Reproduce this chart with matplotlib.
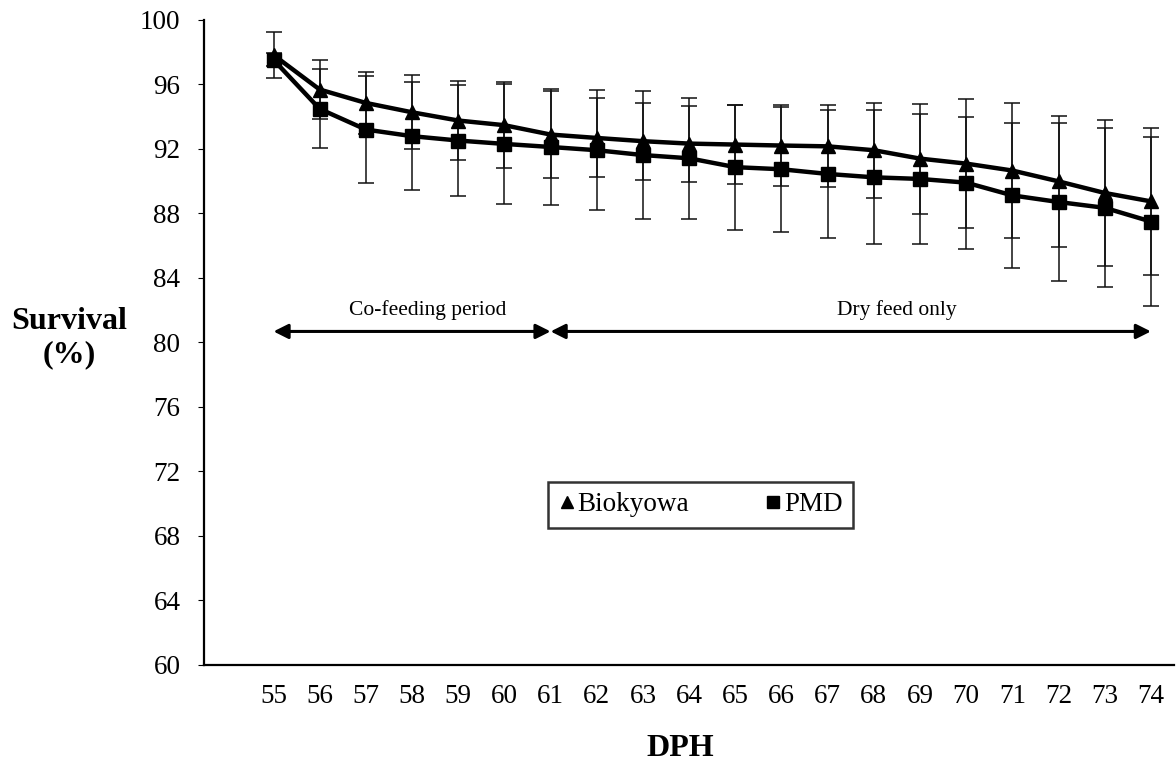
import matplotlib
matplotlib.use("Agg")
import matplotlib.pyplot as plt
from matplotlib.lines import Line2D

dph = list(range(55, 75))
biokyowa = [97.8, 95.66, 94.83, 94.25, 93.74, 93.45, 92.87, 92.66, 92.46, 92.31,
            92.25, 92.19, 92.14, 91.9, 91.38, 91.07, 90.64, 89.97, 89.25, 88.73]
biokyowa_err = [1.4, 1.8, 1.9, 2.3, 2.43, 2.66, 2.7, 2.45, 2.38, 2.35,
                2.45, 2.53, 2.55, 2.94, 3.41, 4.01, 4.16, 4.05, 4.51, 4.55]
pmd = [97.5, 94.46, 93.18, 92.77, 92.5, 92.29, 92.1, 91.9, 91.6, 91.4,
       90.85, 90.72, 90.43, 90.22, 90.12, 89.89, 89.1, 88.69, 88.33, 87.48]
pmd_err = [0.4, 2.45, 3.3, 3.34, 3.43, 3.7, 3.6, 3.72, 3.97, 3.76,
           3.87, 3.88, 3.95, 4.15, 4.05, 4.09, 4.47, 4.88, 4.93, 5.25]
y_ticks = [60, 64, 68, 72, 76, 80, 84, 88, 92, 96, 100]

plt.rcParams['font.family'] = ['Liberation Serif', 'DejaVu Serif']

W, H = 1176, 774
fig = plt.figure(figsize=(W / 100, H / 100), dpi=100)
ax = fig.add_axes([204 / W, 1 - 665 / H, (1174 - 204) / W, (665 - 19.5) / H])

ax.errorbar(dph, biokyowa, yerr=biokyowa_err, fmt='none', ecolor='#111111',
            elinewidth=1.1, capsize=6, capthick=1.1, zorder=2)
ax.errorbar(dph, pmd, yerr=pmd_err, fmt='none', ecolor='#111111',
            elinewidth=1.1, capsize=6, capthick=1.1, zorder=2)
ax.plot(dph, biokyowa, color='black', lw=3.2, marker='^', markersize=10, zorder=3)
ax.plot(dph, pmd, color='black', lw=3.2, marker='s', markersize=9.5, zorder=4)

ax.set_xlim(53.495, 74.5)
ax.set_ylim(60, 100)
ax.set_yticks(y_ticks)
ax.set_xticks(dph)
ax.set_xticklabels([str(d) for d in dph])
ax.tick_params(axis='x', length=0, pad=14, labelsize=19.5)
ax.tick_params(axis='y', length=4, width=0.8, direction='out', pad=13, labelsize=19.5)
for s in ['top', 'right']:
    ax.spines[s].set_visible(False)
ax.spines['left'].set_linewidth(1.6)
ax.spines['bottom'].set_linewidth(1.6)

# period arrows
arrow_y = 80.67
for x0, x1 in [(55, 61), (61, 74)]:
    ax.annotate('', xy=(x1, arrow_y), xytext=(x0, arrow_y),
                arrowprops=dict(arrowstyle='<|-|>', color='black', lw=2.2,
                                mutation_scale=22, shrinkA=0, shrinkB=0))
ax.text(58.33, 81.97, 'Co-feeding period', ha='center', va='center', fontsize=15.5)
ax.text(68.5, 81.97, 'Dry feed only', ha='center', va='center', fontsize=15.5)

handles = [Line2D([], [], color='black', marker='^', linestyle='none', markersize=9),
           Line2D([], [], color='black', marker='s', linestyle='none', markersize=9)]
leg = ax.legend(handles, ['Biokyowa', 'PMD'], loc='center',
                bbox_to_anchor=(0.512, 0.248), ncol=2, fontsize=19.5,
                frameon=True, fancybox=False, edgecolor='black',
                handlelength=0.6, handletextpad=0.1, columnspacing=2.8,
                borderpad=0.4, borderaxespad=0)
leg.get_frame().set_linewidth(1.8)

fig.text(69 / W, 1 - 338 / H, 'Survival\n(%)', ha='center', va='center',
         fontsize=23, fontweight='bold', linespacing=1.2)
fig.text(680 / W, 1 - 748 / H, 'DPH', ha='center', va='center',
         fontsize=23, fontweight='bold')

fig.savefig('out.png', dpi=100)
